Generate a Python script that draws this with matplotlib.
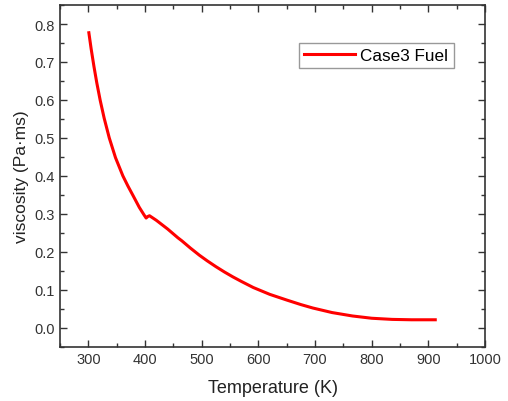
import matplotlib
matplotlib.use('Agg')
import matplotlib.pyplot as plt
from matplotlib.ticker import MultipleLocator

plt.rcParams['font.family'] = ['Liberation Sans', 'DejaVu Sans']

# values
temperature = [301, 305, 310, 315, 321, 328, 337, 348, 361, 370, 379, 390, 398,
               402, 405, 408, 420, 440, 458, 465, 480, 496, 510, 525, 540, 555,
               570, 591, 620, 650, 675, 696, 730, 766, 800, 836, 870, 912]
viscosity = [0.777, 0.735, 0.688, 0.645, 0.599, 0.552, 0.500, 0.448, 0.400, 0.373,
             0.348, 0.317, 0.298, 0.289, 0.293, 0.295, 0.283, 0.260, 0.237, 0.229,
             0.210, 0.191, 0.176, 0.161, 0.147, 0.134, 0.122, 0.106, 0.088, 0.073,
             0.061, 0.052, 0.040, 0.031, 0.025, 0.022, 0.021, 0.021]

fig = plt.figure(figsize=(5.08, 4.02), dpi=100)
ax = fig.add_axes([0.118, 0.135, 0.837, 0.85])

ax.plot(temperature, viscosity, color='red', linewidth=2.2, label='Case3 Fuel')

ax.set_xlim(250, 1000)
ax.set_ylim(-0.05, 0.85)
ax.xaxis.set_minor_locator(MultipleLocator(50))
ax.yaxis.set_minor_locator(MultipleLocator(0.05))
ax.set_xticks(range(300, 1001, 100))
ax.set_yticks([0.0, 0.1, 0.2, 0.3, 0.4, 0.5, 0.6, 0.7, 0.8])
ax.set_yticklabels(['0.0', '0.1', '0.2', '0.3', '0.4', '0.5', '0.6', '0.7', '0.8'])

ax.tick_params(which='both', direction='in', top=True, right=True,
               labeltop=False, labelright=False, colors='#333333', labelsize=10.5)
ax.tick_params(which='major', length=5, width=1)
ax.tick_params(which='minor', length=3, width=1)
for s in ax.spines.values():
    s.set_color('#333333')
    s.set_linewidth(1.2)

ax.set_xlabel('Temperature (K)', fontsize=13, color='#222222', labelpad=10)
ax.set_ylabel('viscosity (Pa\u00b7ms)', fontsize=12.5, color='#222222', labelpad=4)

leg = ax.legend(loc='upper left', bbox_to_anchor=(0.562, 0.889), fontsize=12.3,
                fancybox=False, framealpha=1, edgecolor='#999999', borderaxespad=0,
                handlelength=3.0, borderpad=0.3, handletextpad=0.3)
leg.get_frame().set_linewidth(1.0)

plt.savefig('out.png', dpi=100)
